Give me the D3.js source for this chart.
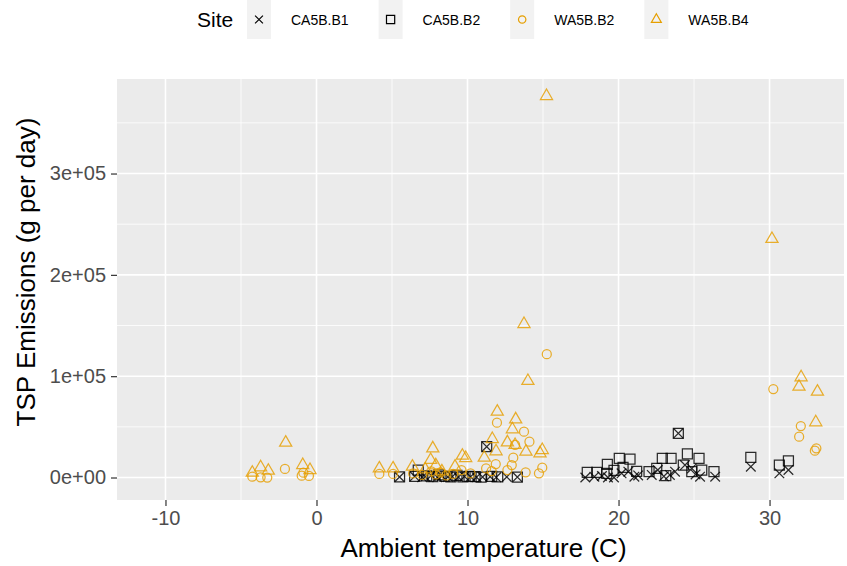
<!DOCTYPE html>
<html>
<head>
<meta charset="utf-8">
<script src="https://cdn.jsdelivr.net/npm/d3@7"></script>
<style>
  body { margin: 0; background: #fff; }
  text { font-family: "Liberation Sans", Arial, sans-serif; }
</style>
</head>
<body>
<div id="chart"></div>
<script>
const W = 847
const H = 566

// site names and their shapes
const sites = ["CA5B.B1", "CA5B.B2", "WA5B.B2", "WA5B.B4"]
const siteShapes = ["cross", "square", "circle", "triangle"]
const siteColors = ["#000000", "#000000", "#E69F00", "#E69F00"]

// CA5B.B1 (crosses)
const tempB1 = [5.5, 6.5, 7.0, 7.2, 7.6, 8.0, 8.3, 8.7, 9.0, 9.4, 9.8, 10.2, 10.6, 11.0, 11.27, 11.5, 11.9, 12.6, 13.3,
  17.8, 18.4, 18.9, 19.3, 19.7, 20.2, 20.65, 21.05, 21.3, 22.2, 22.6, 23.0, 23.4, 23.74, 23.96, 24.4, 24.85, 25.1, 25.4, 26.4,
  28.76, 30.65, 31.25]
const emisB1 = [500, 1200, 300, 800, 2000, 300, 1500, 600, 900, 400, 1100, 700, 300, 500, 30400, 800, 200, 600, 400,
  0, 800, 1500, 0, 0, 4100, 5700, 800, 2000, 2500, 7400, 1200, 2500, 5700, 43600, 12300, 9000, 3000, 800, 800,
  10700, 4100, 7400]

// CA5B.B2 (squares)
const tempB2 = [5.5, 6.5, 6.74, 7.3, 7.7, 8.1, 8.5, 8.9, 9.3, 9.7, 10.1, 10.5, 10.9, 11.27, 11.6, 12.0, 13.3,
  17.93, 18.56, 19.22, 19.26, 19.7, 20.05, 20.3, 20.76, 21.2, 22.02, 22.53, 22.9, 23.13, 23.48, 23.96, 24.29, 24.56,
  24.85, 25.33, 25.51, 26.32, 28.76, 30.65, 31.25]
const emisB2 = [500, 1000, 7400, 1500, 800, 2500, 1000, 600, 2000, 500, 1200, 800, 300, 30400, 1000, 500, 400,
  5100, 5100, 4100, 13000, 7000, 18900, 10000, 18200, 6000, 5700, 9000, 18900, 1800, 18900, 43600, 12300, 23200,
  5700, 18900, 7400, 5700, 19900, 12300, 16300]

// WA5B.B2 (circles)
const tempWB2 = [-4.25, -3.7, -3.26, -2.09, -0.98, -0.87, -0.5, 4.16, 5.07, 6.4, 7.0, 7.6, 7.9, 8.2, 8.6, 9.05, 9.6, 10.2,
  11.23, 11.6, 11.87, 11.95, 12.64, 12.93, 13.03, 13.15, 13.74, 13.85, 14.1, 14.73, 14.95, 15.25,
  30.25, 32.07, 31.96, 33.1, 33.0]
const emisWB2 = [800, 200, 0, 8400, 1800, 4700, 1500, 3500, 3500, 4000, 2500, 6000, 3000, 5000, 2000, 3500, 7400, 4000,
  9000, 6400, 13300, 54100, 7400, 12300, 19500, 32100, 45200, 5100, 35300, 4100, 9700, 121700,
  87300, 50800, 40300, 28800, 26500]

// WA5B.B4 (triangles)
const tempWB4 = [-4.25, -3.7, -3.19, -2.04, -0.91, -0.43, 4.16, 5.07, 6.35, 7.2, 7.56, 7.7, 7.9, 8.3, 9.17, 9.66, 9.88,
  11.11, 11.64, 11.89, 11.97, 12.64, 12.97, 13.15, 13.19, 13.74, 13.87, 14.0, 14.8, 14.95, 15.23,
  30.16, 31.95, 32.09, 33.06, 33.17]
const emisWB4 = [4700, 10100, 6700, 34400, 12300, 7400, 9000, 9000, 10700, 8000, 17300, 28800, 12000, 6000, 10700, 21500, 19200,
  19500, 38000, 25900, 65000, 34700, 47600, 32100, 57400, 151500, 25500, 95300, 23900, 27100, 376500,
  235400, 89600, 98900, 54500, 84700]

const siteTemps = [tempB1, tempB2, tempWB2, tempWB4]
const siteEmis = [emisB1, emisB2, emisWB2, emisWB4]

const xTicks = [-10, 0, 10, 20, 30]
const xTickLabels = ["-10", "0", "10", "20", "30"]
const xMinor = [-5, 5, 15, 25]
const yTicks = [0, 100000, 200000, 300000]
const yTickLabels = ["0e+00", "1e+05", "2e+05", "3e+05"]
const yMinor = [50000, 150000, 250000, 350000]

const panel = {l: 117, r: 844, t: 79, b: 500}

const x = d3.scaleLinear().domain([-13.21, 34.93]).range([panel.l, panel.r])
const y = d3.scaleLinear().domain([-22200, 393300]).range([panel.b, panel.t])

const svg = d3.select("#chart")
  .append("svg")
  .attr("width", W)
  .attr("height", H)

svg.append("rect")
  .attr("x", panel.l)
  .attr("y", panel.t)
  .attr("width", panel.r - panel.l)
  .attr("height", panel.b - panel.t)
  .attr("fill", "#EBEBEB")

const grid = svg.append("g")

grid.selectAll(".xminor").data(xMinor).enter().append("line")
  .attr("x1", d => x(d)).attr("x2", d => x(d))
  .attr("y1", panel.t).attr("y2", panel.b)
  .style("stroke", "#fff").style("stroke-width", 0.8)

grid.selectAll(".yminor").data(yMinor).enter().append("line")
  .attr("x1", panel.l).attr("x2", panel.r)
  .attr("y1", d => y(d)).attr("y2", d => y(d))
  .style("stroke", "#fff").style("stroke-width", 0.8)

grid.selectAll(".xmajor").data(xTicks).enter().append("line")
  .attr("x1", d => x(d)).attr("x2", d => x(d))
  .attr("y1", panel.t).attr("y2", panel.b)
  .style("stroke", "#fff").style("stroke-width", 1.6)

grid.selectAll(".ymajor").data(yTicks).enter().append("line")
  .attr("x1", panel.l).attr("x2", panel.r)
  .attr("y1", d => y(d)).attr("y2", d => y(d))
  .style("stroke", "#fff").style("stroke-width", 1.6)

// shape paths, ggplot style
function shapePath(shape, s) {
  if (shape === "cross") {
    const h = 4.8 * s
    return "M" + (-h) + "," + (-h) + "L" + h + "," + h + "M" + (-h) + "," + h + "L" + h + "," + (-h)
  }
  if (shape === "square") {
    const h = 5 * s
    return "M" + (-h) + "," + (-h) + "H" + h + "V" + h + "H" + (-h) + "Z"
  }
  if (shape === "circle") {
    const r = 4.5 * s
    return "M" + r + ",0A" + r + "," + r + " 0 1,1 " + (-r) + ",0A" + r + "," + r + " 0 1,1 " + r + ",0Z"
  }
  const r = 7 * s
  const w = r * Math.sqrt(3) / 2
  return "M0," + (-r) + "L" + w + "," + (r / 2) + "L" + (-w) + "," + (r / 2) + "Z"
}

const pts = svg.append("g")
for (let i = 0; i < sites.length; i++) {
  const data = siteTemps[i].map((t, j) => ({t: t, v: siteEmis[i][j]}))
  pts.selectAll(".p" + i).data(data).enter().append("path")
    .attr("transform", d => "translate(" + x(d.t) + "," + y(d.v) + ")")
    .attr("d", shapePath(siteShapes[i], 1))
    .style("fill", "none")
    .style("stroke", siteColors[i])
    .style("stroke-opacity", 0.82)
    .style("stroke-width", 1.25)
}

// axes
const xAxis = svg.append("g")
  .attr("transform", "translate(0," + panel.b + ")")
  .call(d3.axisBottom(x).tickValues(xTicks).tickSize(6).tickPadding(5).tickFormat((d, i) => xTickLabels[i]))
xAxis.select(".domain").remove()
xAxis.selectAll(".tick line").style("stroke", "#333").style("stroke-width", 1.2)
xAxis.selectAll(".tick text")
  .style("font-size", "20px")
  .style("fill", "#4D4D4D")
  .style("font-family", "'Liberation Sans', Arial, sans-serif")

const yAxis = svg.append("g")
  .attr("transform", "translate(" + panel.l + ",0)")
  .call(d3.axisLeft(y).tickValues(yTicks).tickSize(6).tickPadding(5).tickFormat((d, i) => yTickLabels[i]))
yAxis.select(".domain").remove()
yAxis.selectAll(".tick line").style("stroke", "#333").style("stroke-width", 1.2)
yAxis.selectAll(".tick text")
  .style("font-size", "20px")
  .style("fill", "#4D4D4D")
  .style("font-family", "'Liberation Sans', Arial, sans-serif")

svg.append("text")
  .attr("x", (panel.l + panel.r) / 2 + 3)
  .attr("y", 557)
  .attr("text-anchor", "middle")
  .style("font-size", "26px")
  .text("Ambient temperature (C)")

svg.append("text")
  .attr("transform", "translate(35," + 272 + ") rotate(-90)")
  .attr("text-anchor", "middle")
  .style("font-size", "26px")
  .text("TSP Emissions (g per day)")

// legend on top
const legend = svg.append("g")
legend.append("text")
  .attr("x", 197)
  .attr("y", 27)
  .style("font-size", "21px")
  .text("Site")

let cx = 247
for (let i = 0; i < sites.length; i++) {
  legend.append("rect")
    .attr("x", cx).attr("y", 0)
    .attr("width", 24).attr("height", 39)
    .attr("fill", "#F2F2F2")
  legend.append("path")
    .attr("transform", "translate(" + (cx + 12) + ",19.5)")
    .attr("d", shapePath(siteShapes[i], 0.82))
    .style("fill", "none")
    .style("stroke", siteColors[i])
    .style("stroke-width", 1.2)
  const lbl = legend.append("text")
    .attr("x", cx + 44)
    .attr("y", 25)
    .style("font-size", "14px")
    .text(sites[i])
  cx += 44 + lbl.node().getComputedTextLength() + 30
}
</script>
</body>
</html>
